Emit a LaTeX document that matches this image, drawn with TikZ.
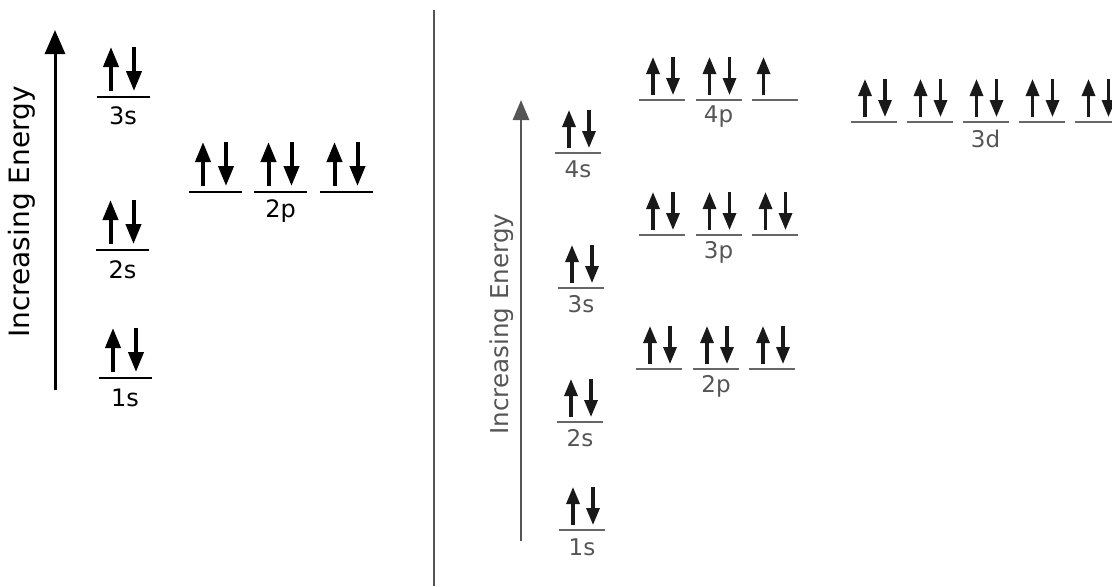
\documentclass[tikz,border=0pt]{standalone}
\usepackage{fontspec}
\setmainfont{DejaVu Sans}
\usetikzlibrary{arrows.meta,positioning}

\definecolor{fadegrey}{HTML}{555555}
\definecolor{levelgrey}{HTML}{666666}

\begin{document}
\begin{tikzpicture}
[x=0.5pt,y=-0.5pt,
energy/.style={line width=1.5pt,-{Triangle[length=12pt,width=10pt]}},
level/.style={line width=1.1pt},
spinL/.style={line width=2pt,-{Triangle[length=10pt,width=7.5pt]}},
spinR/.style={line width=1.6pt,draw=black!90,fill=black!90,-{Triangle[length=8.5pt,width=6.5pt]}},
labL/.style={inner sep=0pt,font=\fontsize{12}{12}\selectfont},
labR/.style={inner sep=0pt,text=fadegrey,font=\fontsize{11.5}{12}\selectfont},
axisL/.style={inner sep=0pt,rotate=90,font=\fontsize{14}{14}\selectfont},
axisR/.style={inner sep=0pt,rotate=90,text=fadegrey,font=\fontsize{12.3}{12}\selectfont},
pics/orbL/.style={code={
  \draw[level] (-26.5,0) -- (26.5,0);
  \draw[spinL] (-12,-6) -- (-12,-50);
  \draw[spinL] (11,-50) -- (11,-6);
}},
pics/orbR/.style={code={
  \draw[level,levelgrey,line width=1.2pt] (-23,0) -- (23,0);
  \draw[spinR] (-9,-5) -- (-9,-43);
  \draw[spinR] (11,-43) -- (11,-5);
}},
pics/halfR/.style={code={
  \draw[level,levelgrey,line width=1.2pt] (-23,0) -- (23,0);
  \draw[spinR] (-11,-5) -- (-11,-43);
}}]
\useasboundingbox (0,0) rectangle (1112,586);
\clip (0,0) rectangle (1112,586);

% left panel
\coordinate (lowL) at (55,390);
\coordinate (highL) at (55,30);
\draw[energy] (lowL) -- (highL);
\node[axisL] (energyL) at (22,212) {Increasing Energy};

\pic (s1L) at (125,378) {orbL};
\node[labL] (s1Ltext) at (125,398) {1s};
\pic (s2L) at (122.5,250) {orbL};
\node[labL] (s2Ltext) at (122.5,270) {2s};
\pic (s3L) at (123,97) {orbL};
\node[labL] (s3Ltext) at (123,116) {3s};
\pic (p2La) at (215,192) {orbL};
\pic (p2Lb) at (280.5,192) {orbL};
\pic (p2Lc) at (346.5,192) {orbL};
\node[labL] (p2Ltext) at (280.5,211) {2p};

% divider
\coordinate (topD) at (434,10);
\coordinate (botD) at (434,586);
\draw[line width=1pt,fadegrey] (topD) -- (botD);

% right panel
\coordinate (lowR) at (521,541);
\coordinate (highR) at (521,100);
\draw[energy,fadegrey,line width=1.4pt,-{Triangle[length=10pt,width=8pt]}] (lowR) -- (highR);
\node[axisR] (energyR) at (502,324) {Increasing Energy};

\pic (s1R) at (582,530) {orbR};
\node[labR] (s1Rtext) at (582,547) {1s};
\pic (s2R) at (580,422) {orbR};
\node[labR] (s2Rtext) at (580,438) {2s};
\pic (s3R) at (581,288) {orbR};
\node[labR] (s3Rtext) at (581,304) {3s};
\pic (s4R) at (578,153) {orbR};
\node[labR] (s4Rtext) at (578,169) {4s};

\foreach \x/\n in {659/a,716/b,772/c}
  \pic (p2R\n) at (\x,369) {orbR};
\node[labR] (p2Rtext) at (716,386) {2p};
\foreach \x/\n in {662/a,718.5/b,774.5/c}
  \pic (p3R\n) at (\x,235) {orbR};
\node[labR] (p3Rtext) at (718.5,252) {3p};
\pic (p4Ra) at (662,100) {orbR};
\pic (p4Rb) at (718.5,100) {orbR};
\pic (p4Rc) at (774.5,100) {halfR};
\node[labR] (p4Rtext) at (718.5,116) {4p};

\foreach \x/\n in {874/a,929.5/b,985.5/c,1041.5/d,1097.5/e}
  \pic (d3R\n) at (\x,122) {orbR};
\node[labR] (d3Rtext) at (985.5,139) {3d};
\end{tikzpicture}
\end{document}
